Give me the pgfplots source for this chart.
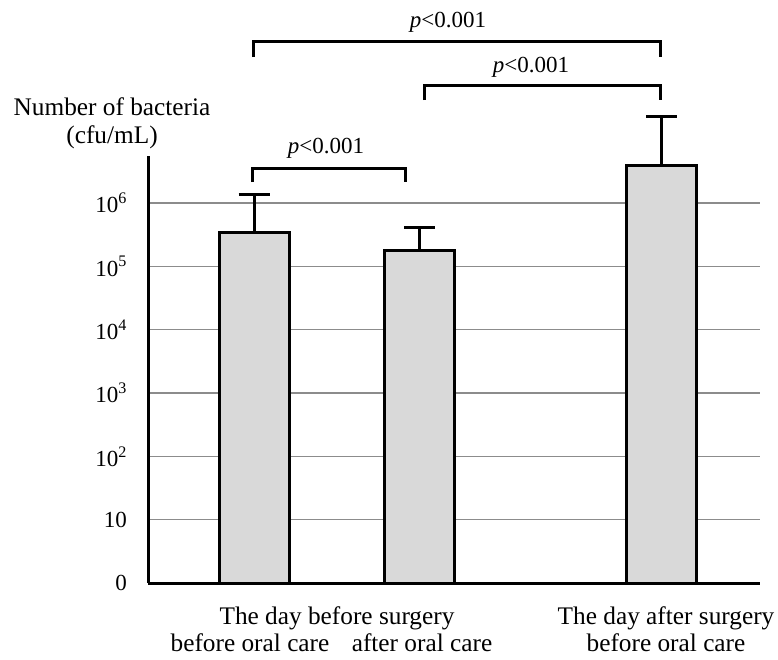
\documentclass[border=0pt]{standalone}
\usepackage{fontspec}
\setmainfont{Liberation Serif}
\usepackage{pgfplots}
\pgfplotsset{compat=1.18}
\definecolor{barcol}{HTML}{D9D9D9}
\definecolor{gridcol}{HTML}{8C8C8C}
\newcommand\fa{\fontsize{25.3}{30}\selectfont}
\newcommand\fb{\fontsize{23}{27}\selectfont}
\begin{document}
\begin{tikzpicture}[x=1pt,y=1pt]
\path[use as bounding box] (0,0) rectangle (778,-659);
\begin{axis}[
  at={(148pt,-583pt)}, anchor=south west,
  scale only axis, width=612pt, height=427pt,
  xmin=148, xmax=760,
  ymode=log, ymin=1, ymax=5.52e6,
  axis x line*=bottom, axis y line*=left,
  axis line style={line width=3pt, black, -},
  xtick=\empty,
  ytick={1,10,100,1000,1e4,1e5,1e6},
  yticklabels={0,10,10\textsuperscript{2},10\textsuperscript{3},10\textsuperscript{4},10\textsuperscript{5},10\textsuperscript{6}},
  ymajorgrids, grid style={line width=1.5pt, gridcol},
  major tick length=0pt, minor tick length=0pt,
  yminorticks=false,
  yticklabel style={font=\fb, anchor=east, inner sep=0pt, xshift=-21pt},
  clip=false,
  ybar, bar width=70pt,
]
\addplot[fill=barcol, draw=black, line width=3pt,
  error bars/.cd, y dir=plus, y explicit,
  error bar style={line width=3pt, black},
  error mark options={line width=3pt, black, mark size=15.5pt, rotate=90}]
  coordinates {
  (254,3.36e5) +- (0,1.004e6)
  (419.5,1.75e5) +- (0,2.28e5)
  (661.5,3.84e6) +- (0,1.896e7)
};
\end{axis}
% significance brackets
\draw[line width=3pt, black] (253,-57) -- (253,-41) -- (660,-41) -- (660,-57);
\draw[line width=3pt, black] (424,-100) -- (424,-85) -- (660,-85) -- (660,-100);
\draw[line width=3pt, black] (252,-182) -- (252,-168) -- (405,-168) -- (405,-182);
\node[font=\fb, anchor=base, inner sep=0pt] at (448,-27) {\textit{p}<0.001};
\node[font=\fb, anchor=base, inner sep=0pt] at (531,-72) {\textit{p}<0.001};
\node[font=\fb, anchor=base, inner sep=0pt] at (326,-153) {\textit{p}<0.001};
% y label
\node[font=\fa, anchor=base, inner sep=0pt] at (112,-115) {Number of bacteria};
\node[font=\fa, anchor=base, inner sep=0pt] at (112,-143) {(cfu/mL)};
% x labels
\node[font=\fa, anchor=base, inner sep=0pt] at (337,-624) {The day before surgery};
\node[font=\fa, anchor=base, inner sep=0pt] at (250,-651) {before oral care};
\node[font=\fa, anchor=base, inner sep=0pt] at (422,-651) {after oral care};
\node[font=\fa, anchor=base, inner sep=0pt] at (666,-624) {The day after surgery};
\node[font=\fa, anchor=base, inner sep=0pt] at (666,-651) {before oral care};
\end{tikzpicture}
\end{document}
